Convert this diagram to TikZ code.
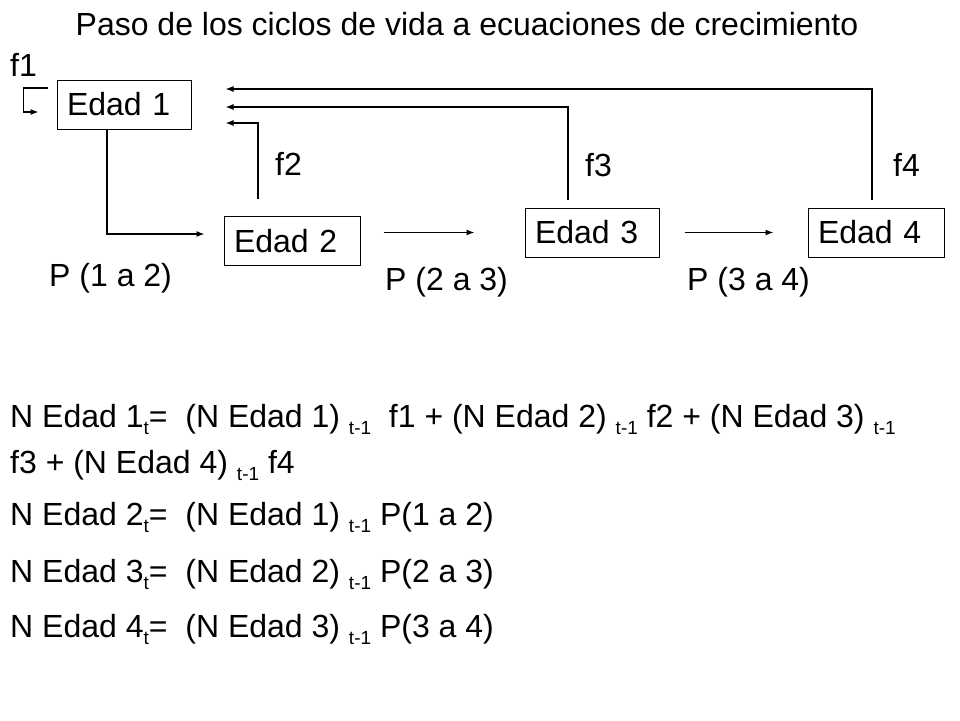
\documentclass[tikz,border=0pt]{standalone}
\usepackage{fontspec}
\setmainfont{Liberation Sans}
\usetikzlibrary{arrows.meta,positioning}
\newcommand{\lowidx}[1]{\raisebox{-7pt}{\fontsize{19}{21}\selectfont #1}}
\begin{document}
\begin{tikzpicture}[x=1pt,y=-1pt,
    every node/.style={font=\fontsize{32}{38}\selectfont},
    edad/.style={draw,line width=1pt,text width=114pt,inner xsep=10pt,inner ysep=0pt,minimum height=49pt,align=left},
    lbl/.style={anchor=base west,inner sep=0pt},
    arr/.style={line width=1.2pt,-{Latex[length=8pt,width=6pt]}}]
    \useasboundingbox (0,0) rectangle (960,720);
    \node[lbl,anchor=base] (title) at (467,35) {Paso de los ciclos de vida a ecuaciones de crecimiento};
    \node[edad] (e1) at (124,104.5) {Edad 1};
    \node[edad,text width=116pt] (e2) at (292,241) {Edad 2};
    \node[edad] (e3) at (592,232.5) {Edad 3};
    \node[edad,text width=116pt] (e4) at (876,232.5) {Edad 4};
    \node[lbl] (f1) at (10,76) {f1};
    \node[lbl] (f2) at (275,175) {f2};
    \node[lbl] (f3) at (585,176) {f3};
    \node[lbl] (f4) at (893,176) {f4};
    \node[lbl] (p12) at (49,286) {P (1 a 2)};
    \node[lbl] (p23) at (385,290) {P (2 a 3)};
    \node[lbl] (p34) at (687,290) {P (3 a 4)};
    \draw[arr] ([xshift=-9pt,yshift=16.5pt]e1.west) -- ++(-24pt,0pt) |- ([xshift=-18pt,yshift=-7.5pt]e1.west);
    \draw[arr] ([xshift=-17pt]e1.south) |- ([xshift=-19pt,yshift=7pt]e2.west);
    \draw[arr] ([xshift=-34pt,yshift=17pt]e2.north) |- ([xshift=34pt,yshift=-18.5pt]e1.east);
    \draw[arr] ([xshift=-24pt,yshift=8pt]e3.north) |- ([xshift=34pt,yshift=-2.5pt]e1.east);
    \draw[arr] ([xshift=-4pt,yshift=8pt]e4.north) |- ([xshift=34pt,yshift=15.5pt]e1.east);
    \draw[arr,shorten <=23pt,shorten >=50pt] (e2.east |- e3.west) -- (e3.west);
    \draw[arr,shorten <=25pt,shorten >=34pt] (e3) -- (e4);
    \node[lbl] (eqa) at (10,427) {N Edad 1\lowidx{t}= \ (N Edad 1) \lowidx{t-1} \ f1 + (N Edad 2) \lowidx{t-1} f2 + (N Edad 3) \lowidx{t-1}};
    \node[lbl] (eqb) at (10,473) {f3 + (N Edad 4) \lowidx{t-1} f4};
    \node[lbl] (eqc) at (10,525) {N Edad 2\lowidx{t}= \ (N Edad 1) \lowidx{t-1} P(1 a 2)};
    \node[lbl] (eqd) at (10,582) {N Edad 3\lowidx{t}= \ (N Edad 2) \lowidx{t-1} P(2 a 3)};
    \node[lbl] (eqe) at (10,637) {N Edad 4\lowidx{t}= \ (N Edad 3) \lowidx{t-1} P(3 a 4)};
\end{tikzpicture}
\end{document}
